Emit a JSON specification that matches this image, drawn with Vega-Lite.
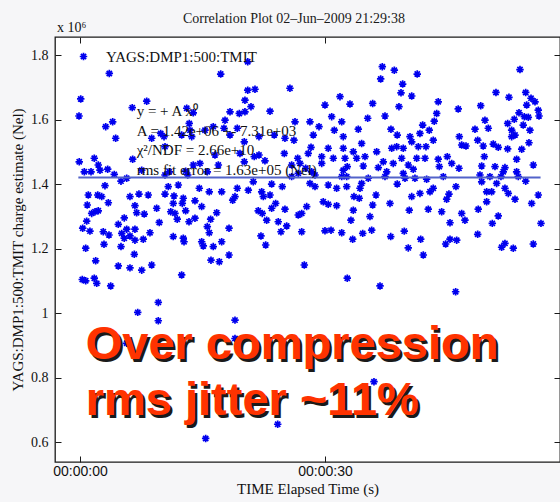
{
  "$schema": "https://vega.github.io/schema/vega-lite/v6.json",
  "width": 505,
  "height": 425,
  "autosize": {"type": "none"},
  "padding": {"left": 55, "top": 37, "right": 0, "bottom": 40},
  "background": "#f6f6f8",
  "config": {
    "view": {"fill": "white", "stroke": "#1a1a1a", "strokeWidth": 1.3},
    "axis": {
      "domain": false,
      "grid": false,
      "tickColor": "#1a1a1a",
      "tickWidth": 1,
      "labelColor": "#111111",
      "titleColor": "#111111",
      "titleFontWeight": "normal"
    }
  },
  "resolve": {"axis": {"x": "independent", "y": "independent"}},
  "datasets": {
    "tmit": [
      {"t": 3.59, "v": 1.743}, {"t": 0.09, "v": 1.664}, {"t": -0.12, "v": 1.611}, {"t": 8.17, "v": 1.657}, {"t": 6.40, "v": 1.637},
      {"t": 3.15, "v": 1.578}, {"t": 4.00, "v": 1.593}, {"t": 4.37, "v": 1.542}, {"t": 8.78, "v": 1.542}, {"t": 6.45, "v": 1.477},
      {"t": -0.09, "v": 1.469}, {"t": 1.75, "v": 1.480}, {"t": 2.24, "v": 1.459}, {"t": 0.53, "v": 1.438}, {"t": 1.35, "v": 1.438},
      {"t": 2.45, "v": 1.443}, {"t": 3.39, "v": 1.446}, {"t": 4.20, "v": 1.430}, {"t": 5.02, "v": 1.409}, {"t": 5.72, "v": 1.418},
      {"t": 3.06, "v": 1.395}, {"t": 7.56, "v": 1.443}, {"t": 1.02, "v": 1.366}, {"t": 2.17, "v": 1.366}, {"t": 2.66, "v": 1.361},
      {"t": 3.47, "v": 1.342}, {"t": 6.12, "v": 1.361}, {"t": 7.22, "v": 1.369}, {"t": 8.36, "v": 1.366}, {"t": 0.89, "v": 1.335},
      {"t": 1.84, "v": 1.314}, {"t": 1.43, "v": 1.309}, {"t": 2.24, "v": 1.317}, {"t": 6.73, "v": 1.333}, {"t": 6.94, "v": 1.311},
      {"t": 7.87, "v": 1.307}, {"t": 0.82, "v": 1.285}, {"t": 5.42, "v": 1.295}, {"t": 0.33, "v": 1.263}, {"t": 1.22, "v": 1.254},
      {"t": 2.85, "v": 1.252}, {"t": 4.69, "v": 1.275}, {"t": 3.55, "v": 1.242}, {"t": 5.11, "v": 1.247}, {"t": 5.72, "v": 1.260},
      {"t": 6.73, "v": 1.260}, {"t": 5.42, "v": 1.232}, {"t": 6.12, "v": 1.239}, {"t": 6.73, "v": 1.226}, {"t": 7.75, "v": 1.229},
      {"t": 8.57, "v": 1.249}, {"t": 0.70, "v": 1.201}, {"t": 2.94, "v": 1.213}, {"t": 5.02, "v": 1.206}, {"t": 6.65, "v": 1.182},
      {"t": 1.92, "v": 1.162}, {"t": 4.69, "v": 1.146}, {"t": 6.12, "v": 1.140}, {"t": 7.56, "v": 1.133}, {"t": 8.78, "v": 1.149},
      {"t": 0.28, "v": 1.104}, {"t": 0.70, "v": 1.100}, {"t": 1.75, "v": 1.108}, {"t": 2.05, "v": 1.092}, {"t": 3.76, "v": 1.084},
      {"t": 17.23, "v": 1.741}, {"t": 20.54, "v": 1.779}, {"t": 20.54, "v": 1.691}, {"t": 20.20, "v": 1.660}, {"t": 18.37, "v": 1.624},
      {"t": 19.51, "v": 1.619}, {"t": 20.20, "v": 1.624}, {"t": 13.87, "v": 1.621}, {"t": 13.07, "v": 1.635}, {"t": 17.76, "v": 1.598},
      {"t": 13.38, "v": 1.588}, {"t": 13.47, "v": 1.567}, {"t": 13.68, "v": 1.547}, {"t": 10.29, "v": 1.547}, {"t": 9.88, "v": 1.557},
      {"t": 10.41, "v": 1.516}, {"t": 12.45, "v": 1.552}, {"t": 15.31, "v": 1.567}, {"t": 16.32, "v": 1.578}, {"t": 17.63, "v": 1.573},
      {"t": 18.37, "v": 1.552}, {"t": 19.26, "v": 1.573}, {"t": 20.12, "v": 1.531}, {"t": 19.59, "v": 1.495}, {"t": 20.12, "v": 1.469},
      {"t": 16.53, "v": 1.490}, {"t": 16.94, "v": 1.459}, {"t": 13.87, "v": 1.459}, {"t": 14.69, "v": 1.464}, {"t": 15.59, "v": 1.438},
      {"t": 12.94, "v": 1.440}, {"t": 13.19, "v": 1.428}, {"t": 10.93, "v": 1.438}, {"t": 10.41, "v": 1.428}, {"t": 10.81, "v": 1.392},
      {"t": 12.04, "v": 1.397}, {"t": 14.61, "v": 1.387}, {"t": 15.83, "v": 1.376}, {"t": 17.35, "v": 1.376}, {"t": 19.26, "v": 1.387},
      {"t": 18.98, "v": 1.361}, {"t": 18.70, "v": 1.350}, {"t": 10.41, "v": 1.369}, {"t": 11.51, "v": 1.363}, {"t": 12.65, "v": 1.356},
      {"t": 11.42, "v": 1.340}, {"t": 12.53, "v": 1.340}, {"t": 14.08, "v": 1.348}, {"t": 14.90, "v": 1.330}, {"t": 9.39, "v": 1.325},
      {"t": 11.11, "v": 1.314}, {"t": 11.63, "v": 1.309}, {"t": 12.94, "v": 1.317}, {"t": 16.74, "v": 1.311}, {"t": 14.08, "v": 1.294},
      {"t": 13.35, "v": 1.283}, {"t": 11.91, "v": 1.291}, {"t": 9.71, "v": 1.281}, {"t": 16.00, "v": 1.291}, {"t": 15.59, "v": 1.268},
      {"t": 15.83, "v": 1.249}, {"t": 18.25, "v": 1.263}, {"t": 11.42, "v": 1.237}, {"t": 12.65, "v": 1.232}, {"t": 12.74, "v": 1.221},
      {"t": 14.90, "v": 1.221}, {"t": 16.32, "v": 1.206}, {"t": 17.35, "v": 1.221}, {"t": 15.10, "v": 1.208}, {"t": 18.25, "v": 1.180},
      {"t": 16.04, "v": 1.164}, {"t": 17.06, "v": 1.159}, {"t": 12.45, "v": 1.118},
      {"t": 25.71, "v": 1.697}, {"t": 21.43, "v": 1.694}, {"t": 20.94, "v": 1.640}, {"t": 23.27, "v": 1.626}, {"t": 30.00, "v": 1.645},
      {"t": 30.82, "v": 1.609}, {"t": 31.84, "v": 1.671}, {"t": 32.05, "v": 1.593}, {"t": 31.14, "v": 1.567}, {"t": 26.33, "v": 1.593},
      {"t": 28.16, "v": 1.593}, {"t": 29.27, "v": 1.578}, {"t": 21.92, "v": 1.547}, {"t": 23.79, "v": 1.552}, {"t": 25.10, "v": 1.542},
      {"t": 26.20, "v": 1.536}, {"t": 28.57, "v": 1.552}, {"t": 28.29, "v": 1.514}, {"t": 30.40, "v": 1.511}, {"t": 21.34, "v": 1.485},
      {"t": 21.92, "v": 1.490}, {"t": 25.02, "v": 1.495}, {"t": 26.66, "v": 1.480}, {"t": 27.95, "v": 1.495}, {"t": 29.60, "v": 1.485},
      {"t": 31.02, "v": 1.480}, {"t": 22.65, "v": 1.472}, {"t": 25.92, "v": 1.459}, {"t": 26.94, "v": 1.464}, {"t": 29.60, "v": 1.464},
      {"t": 27.64, "v": 1.449}, {"t": 28.37, "v": 1.438}, {"t": 28.78, "v": 1.428}, {"t": 25.92, "v": 1.423}, {"t": 26.73, "v": 1.433},
      {"t": 21.22, "v": 1.407}, {"t": 23.47, "v": 1.400}, {"t": 24.77, "v": 1.392}, {"t": 28.16, "v": 1.402}, {"t": 28.78, "v": 1.392},
      {"t": 30.40, "v": 1.397}, {"t": 31.43, "v": 1.387}, {"t": 32.05, "v": 1.423}, {"t": 20.61, "v": 1.381}, {"t": 22.25, "v": 1.376},
      {"t": 22.45, "v": 1.361}, {"t": 23.27, "v": 1.366}, {"t": 23.96, "v": 1.340}, {"t": 23.47, "v": 1.325}, {"t": 25.10, "v": 1.322},
      {"t": 21.83, "v": 1.317}, {"t": 22.32, "v": 1.309}, {"t": 22.86, "v": 1.288}, {"t": 24.28, "v": 1.283}, {"t": 25.31, "v": 1.270},
      {"t": 26.73, "v": 1.304}, {"t": 27.15, "v": 1.309}, {"t": 27.76, "v": 1.330}, {"t": 29.79, "v": 1.345}, {"t": 30.40, "v": 1.337},
      {"t": 31.43, "v": 1.333}, {"t": 24.61, "v": 1.252}, {"t": 27.15, "v": 1.252}, {"t": 30.00, "v": 1.255}, {"t": 30.74, "v": 1.257},
      {"t": 32.05, "v": 1.249}, {"t": 22.16, "v": 1.239}, {"t": 22.74, "v": 1.211}, {"t": 27.47, "v": 1.149},
      {"t": 37.02, "v": 1.764}, {"t": 38.49, "v": 1.753}, {"t": 36.82, "v": 1.726}, {"t": 41.30, "v": 1.741}, {"t": 39.51, "v": 1.710},
      {"t": 39.31, "v": 1.683}, {"t": 40.62, "v": 1.673}, {"t": 33.06, "v": 1.648}, {"t": 35.84, "v": 1.650}, {"t": 39.06, "v": 1.640},
      {"t": 37.35, "v": 1.611}, {"t": 35.23, "v": 1.604}, {"t": 43.87, "v": 1.655}, {"t": 43.68, "v": 1.619}, {"t": 43.38, "v": 1.595},
      {"t": 41.96, "v": 1.583}, {"t": 42.77, "v": 1.567}, {"t": 34.08, "v": 1.570}, {"t": 38.08, "v": 1.570}, {"t": 38.85, "v": 1.552},
      {"t": 40.41, "v": 1.547}, {"t": 41.63, "v": 1.557}, {"t": 43.26, "v": 1.536}, {"t": 32.24, "v": 1.547}, {"t": 34.49, "v": 1.526},
      {"t": 40.62, "v": 1.531}, {"t": 41.43, "v": 1.516}, {"t": 42.37, "v": 1.516}, {"t": 38.78, "v": 1.516}, {"t": 38.17, "v": 1.511},
      {"t": 39.59, "v": 1.511}, {"t": 32.24, "v": 1.511}, {"t": 33.47, "v": 1.500}, {"t": 36.33, "v": 1.500}, {"t": 33.88, "v": 1.480},
      {"t": 34.90, "v": 1.485}, {"t": 32.45, "v": 1.480}, {"t": 39.39, "v": 1.480}, {"t": 41.23, "v": 1.480}, {"t": 42.25, "v": 1.480},
      {"t": 43.87, "v": 1.477}, {"t": 37.14, "v": 1.469}, {"t": 38.36, "v": 1.464}, {"t": 40.20, "v": 1.459}, {"t": 34.69, "v": 1.456},
      {"t": 32.73, "v": 1.454}, {"t": 36.53, "v": 1.451}, {"t": 37.56, "v": 1.438}, {"t": 40.81, "v": 1.446}, {"t": 32.24, "v": 1.443},
      {"t": 32.66, "v": 1.423}, {"t": 35.30, "v": 1.418}, {"t": 37.35, "v": 1.423}, {"t": 39.59, "v": 1.433}, {"t": 39.80, "v": 1.418},
      {"t": 41.02, "v": 1.418}, {"t": 42.45, "v": 1.415}, {"t": 34.49, "v": 1.402}, {"t": 38.85, "v": 1.400}, {"t": 32.66, "v": 1.392},
      {"t": 34.29, "v": 1.387}, {"t": 43.26, "v": 1.387}, {"t": 41.63, "v": 1.371}, {"t": 40.62, "v": 1.361}, {"t": 33.55, "v": 1.361},
      {"t": 34.20, "v": 1.356}, {"t": 36.25, "v": 1.366}, {"t": 42.86, "v": 1.376}, {"t": 37.96, "v": 1.340}, {"t": 35.84, "v": 1.335},
      {"t": 33.47, "v": 1.319}, {"t": 40.32, "v": 1.319}, {"t": 42.65, "v": 1.322}, {"t": 33.18, "v": 1.288}, {"t": 35.51, "v": 1.299},
      {"t": 35.72, "v": 1.257}, {"t": 34.62, "v": 1.247}, {"t": 33.39, "v": 1.229}, {"t": 38.05, "v": 1.237}, {"t": 39.71, "v": 1.254},
      {"t": 41.72, "v": 1.229}, {"t": 40.20, "v": 1.202}, {"t": 42.04, "v": 1.180}, {"t": 32.73, "v": 1.108}, {"t": 36.74, "v": 1.084},
      {"t": 53.88, "v": 1.755}, {"t": 50.94, "v": 1.684}, {"t": 52.53, "v": 1.669}, {"t": 54.58, "v": 1.684}, {"t": 55.23, "v": 1.666},
      {"t": 55.72, "v": 1.655}, {"t": 54.70, "v": 1.645}, {"t": 56.12, "v": 1.629}, {"t": 56.21, "v": 1.611}, {"t": 46.32, "v": 1.633},
      {"t": 49.07, "v": 1.643}, {"t": 53.76, "v": 1.621}, {"t": 53.18, "v": 1.601}, {"t": 54.41, "v": 1.609}, {"t": 54.90, "v": 1.607},
      {"t": 49.59, "v": 1.598}, {"t": 48.37, "v": 1.570}, {"t": 50.00, "v": 1.573}, {"t": 52.37, "v": 1.588}, {"t": 52.86, "v": 1.567},
      {"t": 54.28, "v": 1.583}, {"t": 55.10, "v": 1.567}, {"t": 53.27, "v": 1.552}, {"t": 52.86, "v": 1.547}, {"t": 46.45, "v": 1.547},
      {"t": 46.74, "v": 1.521}, {"t": 47.27, "v": 1.518}, {"t": 48.70, "v": 1.536}, {"t": 49.38, "v": 1.518}, {"t": 50.61, "v": 1.524},
      {"t": 51.22, "v": 1.514}, {"t": 52.37, "v": 1.509}, {"t": 54.09, "v": 1.508}, {"t": 54.98, "v": 1.528}, {"t": 49.51, "v": 1.485},
      {"t": 53.47, "v": 1.477}, {"t": 55.51, "v": 1.459}, {"t": 44.98, "v": 1.485}, {"t": 44.00, "v": 1.454}, {"t": 45.52, "v": 1.464},
      {"t": 46.41, "v": 1.449}, {"t": 49.19, "v": 1.456}, {"t": 50.82, "v": 1.454}, {"t": 52.04, "v": 1.451}, {"t": 51.83, "v": 1.438},
      {"t": 53.47, "v": 1.438}, {"t": 44.49, "v": 1.423}, {"t": 48.98, "v": 1.428}, {"t": 50.20, "v": 1.423}, {"t": 51.55, "v": 1.423},
      {"t": 49.19, "v": 1.407}, {"t": 51.02, "v": 1.402}, {"t": 53.67, "v": 1.423}, {"t": 54.58, "v": 1.409}, {"t": 46.04, "v": 1.392},
      {"t": 52.04, "v": 1.387}, {"t": 49.80, "v": 1.376}, {"t": 50.41, "v": 1.376}, {"t": 45.18, "v": 1.369}, {"t": 52.45, "v": 1.371},
      {"t": 53.27, "v": 1.353}, {"t": 56.12, "v": 1.366}, {"t": 44.90, "v": 1.353}, {"t": 49.80, "v": 1.345}, {"t": 55.31, "v": 1.340},
      {"t": 44.29, "v": 1.314}, {"t": 46.74, "v": 1.309}, {"t": 47.14, "v": 1.288}, {"t": 48.77, "v": 1.322}, {"t": 51.22, "v": 1.301},
      {"t": 50.49, "v": 1.278}, {"t": 45.31, "v": 1.280}, {"t": 56.45, "v": 1.278}, {"t": 48.70, "v": 1.244}, {"t": 45.31, "v": 1.229},
      {"t": 46.13, "v": 1.226}, {"t": 44.78, "v": 1.214}, {"t": 52.04, "v": 1.216}, {"t": 51.63, "v": 1.204}, {"t": 53.06, "v": 1.201},
      {"t": 55.51, "v": 1.214}, {"t": 46.00, "v": 1.066},
      {"t": 9.59, "v": 1.033}, {"t": 7.07, "v": 1.002}, {"t": 9.59, "v": 0.976}, {"t": 18.98, "v": 0.978}, {"t": 18.98, "v": 0.921},
      {"t": 5.72, "v": 0.906}, {"t": 35.51, "v": 0.906}, {"t": 36.00, "v": 0.787}, {"t": 24.21, "v": 0.655}, {"t": 15.39, "v": 0.611}
    ],
    "fit": [{"t0": -0.2, "t1": 56.4, "a": 1.42}]
  },
  "layer": [
    {
      "data": {"name": "tmit"},
      "mark": {
        "type": "point",
        "shape": "M-1,0L1,0M0,-1L0,1M-0.7,-0.7L0.7,0.7M-0.7,0.7L0.7,-0.7",
        "filled": false,
        "size": 56,
        "strokeWidth": 1.7,
        "opacity": 1
      },
      "encoding": {
        "x": {
          "field": "t",
          "type": "quantitative",
          "scale": {"domain": [-3.06, 58.78], "nice": false, "zero": false},
          "axis": {
            "values": [0, 30],
            "labelExpr": "'00:00:' + (datum.value < 10 ? '0' + datum.value : datum.value)",
            "labelFont": "Liberation Sans",
            "labelFontSize": 14,
            "labelPadding": 8,
            "tickSize": -6,
            "title": "TIME Elapsed Time (s)",
            "titleFont": "Liberation Serif",
            "titleFontSize": 15,
            "titlePadding": 3
          }
        },
        "y": {
          "field": "v",
          "type": "quantitative",
          "scale": {"domain": [0.538, 1.856], "nice": false, "zero": false},
          "axis": {
            "values": [0.6, 0.8, 1, 1.2, 1.4, 1.6, 1.8],
            "format": ".1~f",
            "labelFont": "Liberation Serif",
            "labelFontSize": 14,
            "labelPadding": 13,
            "tickSize": -6,
            "title": "YAGS:DMP1:500:TMIT charge estimate (Nel)",
            "titleFont": "Liberation Serif",
            "titleFontSize": 15,
            "titlePadding": 5
          }
        },
        "color": {
          "datum": "YAGS:DMP1:500:TMIT",
          "type": "nominal",
          "scale": {"range": ["#0000ee"]},
          "legend": {
            "orient": "none",
            "legendX": 21,
            "legendY": 12,
            "title": null,
            "padding": 0,
            "symbolType": "M-1,0L1,0M0,-1L0,1M-0.7,-0.7L0.7,0.7M-0.7,0.7L0.7,-0.7",
            "symbolSize": 56,
            "symbolStrokeWidth": 1.7,
            "labelFont": "Liberation Serif",
            "labelFontSize": 15,
            "labelColor": "#111111",
            "labelOffset": 15
          }
        }
      }
    },
    {
      "data": {"name": "fit"},
      "mark": {"type": "rule", "color": "#5263c9", "strokeWidth": 2},
      "encoding": {
        "x": {
          "field": "t0",
          "type": "quantitative",
          "scale": {"domain": [-3.06, 58.78], "nice": false, "zero": false},
          "axis": {"orient": "top", "values": [0, 30], "labels": false, "tickSize": -6, "title": null}
        },
        "x2": {"field": "t1"},
        "y": {
          "field": "a",
          "type": "quantitative",
          "scale": {"domain": [0.538, 1.856], "nice": false, "zero": false},
          "axis": {"orient": "right", "values": [0.6, 0.8, 1, 1.2, 1.4, 1.6, 1.8], "labels": false, "tickSize": -6, "title": null}
        }
      }
    },
    {
      "data": {"values": [{}]},
      "mark": {
        "type": "text",
        "text": ["y = + A x⁰", "A = 1.42e+06 +- 7.31e+03", "χ²/NDF = 2.66e+10", "rms fit error = 1.63e+05 (Nel)"],
        "font": "Liberation Serif",
        "fontSize": 15,
        "lineHeight": 19.7,
        "align": "left",
        "baseline": "alphabetic",
        "color": "#111111"
      },
      "encoding": {
        "x": {"datum": 6.94, "type": "quantitative", "axis": null},
        "y": {"datum": 1.611, "type": "quantitative", "axis": null}
      }
    },
    {
      "data": {"values": [{}]},
      "mark": {
        "type": "text",
        "text": "x 10⁶",
        "font": "Liberation Serif",
        "fontSize": 14,
        "align": "left",
        "baseline": "alphabetic",
        "color": "#111111"
      },
      "encoding": {
        "x": {"datum": -2.82, "type": "quantitative", "axis": null},
        "y": {"datum": 1.872, "type": "quantitative", "axis": null}
      }
    },
    {
      "data": {"values": [{}]},
      "mark": {
        "type": "text",
        "text": "Correlation Plot 02–Jun–2009 21:29:38",
        "font": "Liberation Serif",
        "fontSize": 14,
        "align": "center",
        "baseline": "alphabetic",
        "color": "#1a1a1a"
      },
      "encoding": {
        "x": {"datum": 26.2, "type": "quantitative", "axis": null},
        "y": {"datum": 1.899, "type": "quantitative", "axis": null}
      }
    },
    {
      "data": {"values": [{}]},
      "mark": {
        "type": "text",
        "text": ["Over compression", "rms jitter ~11%"],
        "font": "Liberation Sans",
        "fontSize": 47,
        "fontWeight": "bold",
        "lineHeight": 56,
        "align": "left",
        "baseline": "alphabetic",
        "color": "#1a1a1a",
        "dx": 2.5,
        "dy": 2.5
      },
      "encoding": {
        "x": {"datum": 0.7, "type": "quantitative", "axis": null},
        "y": {"datum": 0.857, "type": "quantitative", "axis": null}
      }
    },
    {
      "data": {"values": [{}]},
      "mark": {
        "type": "text",
        "text": ["Over compression", "rms jitter ~11%"],
        "font": "Liberation Sans",
        "fontSize": 47,
        "fontWeight": "bold",
        "lineHeight": 56,
        "align": "left",
        "baseline": "alphabetic",
        "color": "#ff3300"
      },
      "encoding": {
        "x": {"datum": 0.7, "type": "quantitative", "axis": null},
        "y": {"datum": 0.857, "type": "quantitative", "axis": null}
      }
    }
  ]
}
